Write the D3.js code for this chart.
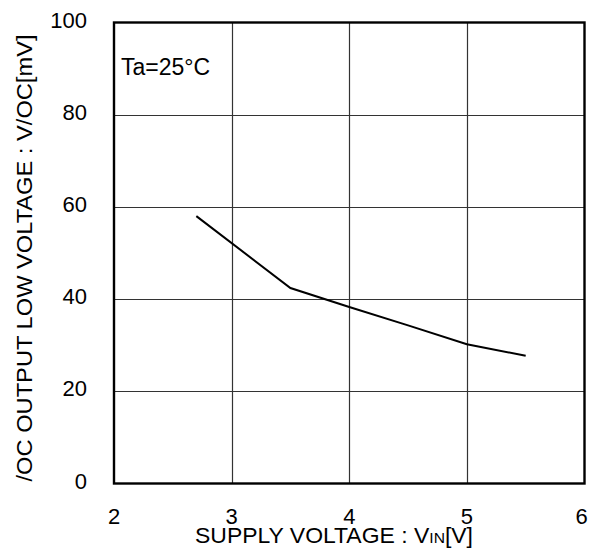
<!DOCTYPE html>
<html>
<head>
<meta charset="utf-8">
<script src="https://cdn.jsdelivr.net/npm/d3@7"></script>
<style>
  html, body { margin: 0; padding: 0; background: #fff; }
  svg { display: block; font-family: "Liberation Sans", Arial, sans-serif; }
</style>
</head>
<body>
<svg id="chart" width="595" height="556"></svg>
<script>
// Supply voltage (V) vs /OC output low voltage (mV), Ta = 25 °C
const supplyVoltage = [2.7, 3.5, 4.0, 4.5, 5.0, 5.5];
const outputLowMv   = [58.0, 42.4, 38.3, 34.3, 30.2, 27.7];
const xTicks = [2, 3, 4, 5, 6];
const yTicks = [0, 20, 40, 60, 80, 100];

const svg = d3.select("#chart");
const plotLeft = 114, plotRight = 584.5, plotTop = 22.5, plotBottom = 483.5;

const x = d3.scaleLinear().domain([2, 6]).range([plotLeft, plotRight]);
const y = d3.scaleLinear().domain([0, 100]).range([plotBottom, plotTop]);

// grid
svg.append("g").selectAll("line").data(xTicks.slice(1, -1)).join("line")
  .attr("x1", d => Math.round(x(d)) + 0.5).attr("x2", d => Math.round(x(d)) + 0.5)
  .attr("y1", plotTop).attr("y2", plotBottom)
  .attr("stroke", "#333").attr("stroke-width", 1.2);
svg.append("g").selectAll("line").data(yTicks.slice(1, -1)).join("line")
  .attr("y1", d => Math.round(y(d)) + 0.5).attr("y2", d => Math.round(y(d)) + 0.5)
  .attr("x1", plotLeft).attr("x2", plotRight)
  .attr("stroke", "#333").attr("stroke-width", 1.2);

// frame
svg.append("rect")
  .attr("x", plotLeft).attr("y", plotTop)
  .attr("width", plotRight - plotLeft).attr("height", plotBottom - plotTop)
  .attr("fill", "none").attr("stroke", "#000").attr("stroke-width", 2.4);

// curve
const pts = supplyVoltage.map((v, i) => [v, outputLowMv[i]]);
svg.append("path")
  .datum(pts)
  .attr("d", d3.line().x(d => x(d[0])).y(d => y(d[1])))
  .attr("fill", "none").attr("stroke", "#000").attr("stroke-width", 2);

// tick labels
svg.append("g").selectAll("text").data(yTicks).join("text")
  .attr("x", 87).attr("y", d => y(d) + 5)
  .attr("text-anchor", "end")
  .attr("font-size", 22).attr("fill", "#000")
  .text(d => d);
svg.append("g").selectAll("text").data(xTicks).join("text")
  .attr("x", d => d === 6 ? x(d) - 3 : x(d)).attr("y", 524)
  .attr("text-anchor", "middle")
  .attr("font-size", 22).attr("fill", "#000")
  .text(d => d);

// axis titles
const xt = svg.append("text")
  .attr("x", 334).attr("y", 543)
  .attr("text-anchor", "middle")
  .attr("font-size", 22).attr("fill", "#000")
  .attr("textLength", 278).attr("lengthAdjust", "spacingAndGlyphs");
xt.append("tspan").text("SUPPLY VOLTAGE : V");
xt.append("tspan").attr("font-size", 15).text("IN");
xt.append("tspan").text("[V]");

svg.append("text")
  .attr("transform", "translate(32,258) rotate(-90)")
  .attr("text-anchor", "middle")
  .attr("font-size", 22).attr("fill", "#000")
  .attr("textLength", 447).attr("lengthAdjust", "spacingAndGlyphs")
  .text("/OC OUTPUT LOW VOLTAGE : V/OC[mV]");

// condition note
svg.append("text")
  .attr("x", 121).attr("y", 75)
  .attr("font-size", 23).attr("fill", "#000")
  .text("Ta=25°C");
</script>
</body>
</html>
